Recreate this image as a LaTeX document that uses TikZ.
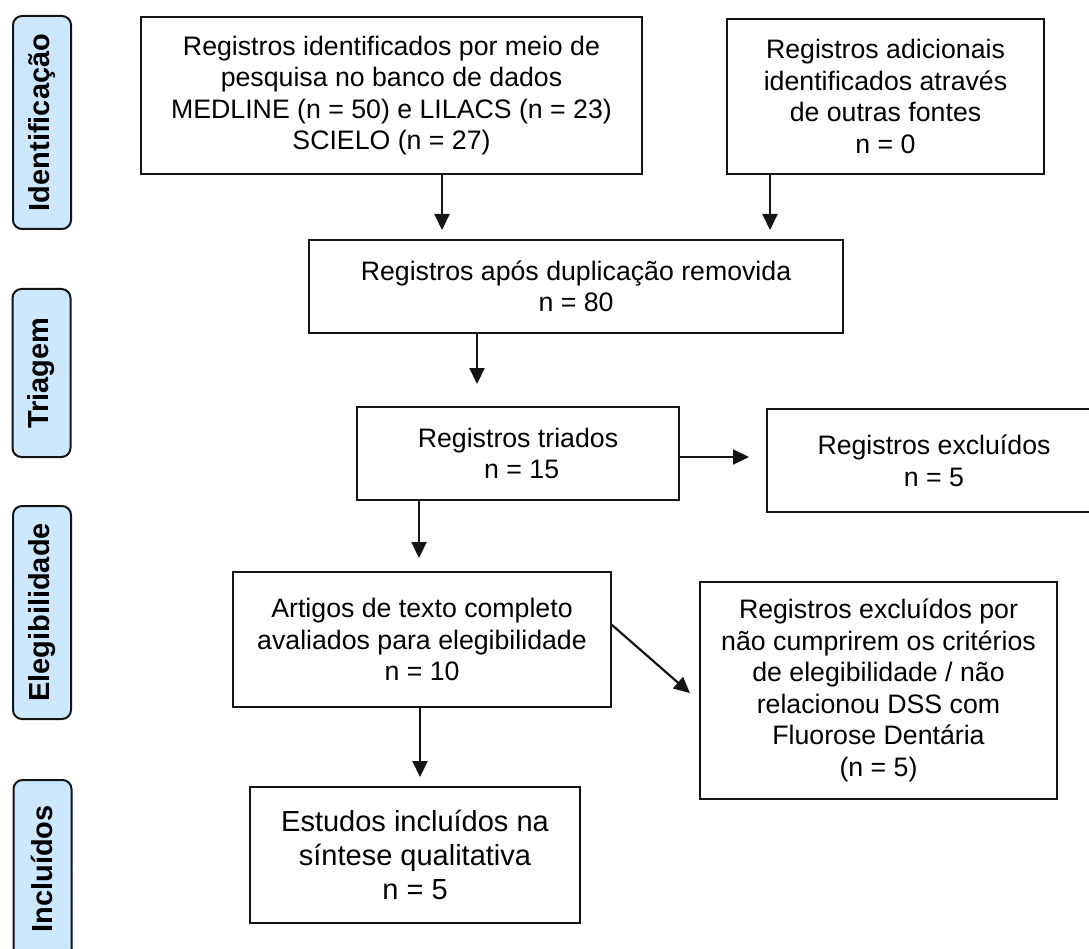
\documentclass[tikz,border=0pt]{standalone}
\usepackage{fontspec}
\setmainfont{Liberation Sans}
\usetikzlibrary{arrows.meta}
\definecolor{lblue}{RGB}{204,232,255}
\definecolor{ink}{RGB}{20,20,20}
\begin{document}
\begin{tikzpicture}[x=1pt,y=-1pt,
  box/.style={draw=ink, line width=2pt, rectangle, inner sep=0pt, align=center,
    font=\fontsize{26.7}{31.6}\selectfont, text=black},
  bigbox/.style={box, font=\fontsize{29}{34}\selectfont},
  phase/.style={draw=ink, line width=2pt, fill=lblue, rounded corners=9pt, inner sep=0pt,
    rotate=90, font=\fontsize{29}{34}\selectfont\bfseries, minimum height=58pt},
  arr/.style={draw=ink, line width=2.2pt, -{Triangle[length=16pt,width=15pt]}}]
\path[use as bounding box] (0,0) rectangle (1089,949);
\clip (0,0) rectangle (1089,949);

% phase labels
\node[phase, minimum width=213pt] (p1) at (42,122.5) {Identificação};
\node[phase, minimum width=168pt] (p2) at (41.5,373) {Triagem};
\node[phase, minimum width=213pt] (p3) at (42,612.5) {Elegibilidade};
\node[phase, minimum width=178pt] (p4) at (42.5,869) {Incluídos};

% boxes
\node[box, minimum width=501pt, minimum height=157pt] (b1) at (391.5,95.5)
  {Registros identificados por meio de\\pesquisa no banco de dados\\MEDLINE (n = 50) e LILACS (n = 23)\\SCIELO (n = 27)};
\node[box, minimum width=317pt, minimum height=155pt] (b2) at (885.5,96.5)
  {Registros adicionais\\identificados através\\de outras fontes\\n = 0};
\node[box, minimum width=534pt, minimum height=93pt] (b3) at (576,286.5)
  {Registros após duplicação removida\\n = 80};
\node[box, minimum width=322pt, minimum height=93pt] (b4) at (518,453.5)
  {Registros triados\\\ n = 15};
\node[box, minimum width=334pt, minimum height=103pt] (b5) at (934,460.5)
  {Registros excluídos\\n = 5};
\node[box, minimum width=378pt, minimum height=135pt] (b6) at (422,639.5)
  {Artigos de texto completo\\avaliados para elegibilidade\\n = 10};
\node[box, minimum width=357pt, minimum height=217pt] (b7) at (878.5,690.5)
  {Registros excluídos por\\não cumprirem os critérios\\de elegibilidade / não\\relacionou DSS com\\Fluorose Dentária\\(n = 5)};
\node[bigbox, minimum width=330pt, minimum height=136pt] (b8) at (415,855)
  {Estudos incluídos na\\síntese qualitativa\\n = 5};

% helper coordinates for connector positions
\coordinate (x1) at (442,0);
\coordinate (x2) at (770,0);
\coordinate (x3) at (477,0);
\coordinate (x4) at (419,0);
\coordinate (x5) at (420,0);
\coordinate (h1) at (0,457);
\coordinate (d1) at (0,625);
\coordinate (d2) at (0,701);

% connectors
\draw[arr, shorten >=9pt] (x1 |- b1.south) -- (x1 |- b3.north);
\draw[arr, shorten >=9pt] (x2 |- b2.south) -- (x2 |- b3.north);
\draw[arr, shorten >=22pt] (x3 |- b3.south) -- (x3 |- b4.north);
\draw[arr, shorten >=17pt] (b4.east |- h1) -- (b5.west |- h1);
\draw[arr, shorten >=13pt] (x4 |- b4.south) -- (x4 |- b6.north);
\draw[arr, shorten >=12pt] (b6.east |- d1) -- (b7.west |- d2);
\draw[arr, shorten >=9pt] (x5 |- b6.south) -- (x5 |- b8.north);
\end{tikzpicture}
\end{document}
